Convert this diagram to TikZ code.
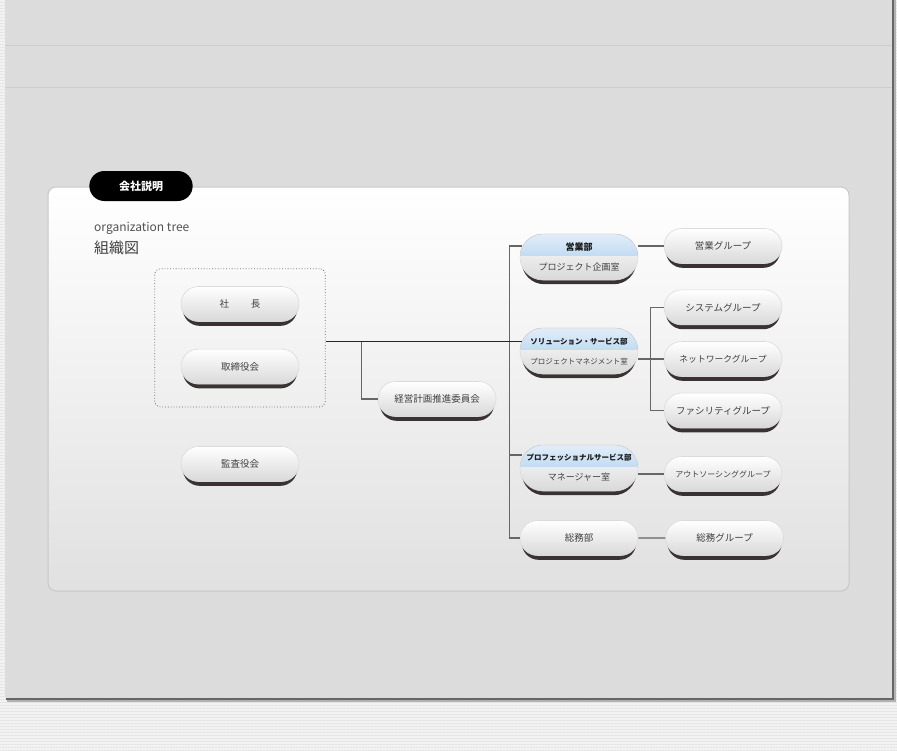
\documentclass[tikz,border=0pt]{standalone}
\usepackage{fontspec}
\setmainfont{Noto Sans CJK JP}
\usepackage{xcolor}
\usepackage{tikz}
\usetikzlibrary{calc, positioning, fit, shapes.misc, shadows, patterns.meta}

\definecolor{panelgray}{HTML}{DCDCDC}
\definecolor{textgray}{HTML}{404040}
\definecolor{linkgray}{HTML}{666666}
\definecolor{shadowbrown}{HTML}{3A3232}
\definecolor{deptblue}{HTML}{9EC6EA}
\definecolor{cardline}{HTML}{C8C8C8}

\begin{document}
\begin{tikzpicture}[x=1pt, y=-1pt]
            % Block style
            \tikzstyle{pill} = [rounded rectangle, draw=black!14, line width=0.6pt, minimum width=118pt, minimum height=35pt, inner sep=0pt, top color=white, bottom color=black!15, text=textgray, font=\fontsize{9.5}{11}\selectfont, general shadow={shadow yshift=-5pt, shadow scale=0.97, fill=shadowbrown, draw=none}]
            \tikzstyle{dept} = [pill, minimum height=46pt, align=center, font=\fontsize{9}{20}\selectfont, path picture={\fill[top color=deptblue!30, bottom color=deptblue] (path picture bounding box.north west) rectangle ([yshift=2pt]path picture bounding box.east);}]
            \tikzstyle{board} = [draw=black!60, dotted, line width=0.8pt, rounded corners=6pt, inner xsep=26pt, inner ysep=20pt]
            \tikzstyle{link} = [draw=linkgray, line width=1.4pt]
            \tikzstyle{trunkline} = [draw=black!85, line width=1pt]

            \useasboundingbox (0,0) rectangle (897,750);

            % Page and panel
            \fill[black!5] (0,0) rectangle (897,750);
            \fill[pattern={Lines[angle=0, distance=3pt, line width=1pt]}, pattern color=black!10] (0,0) rectangle (897,750);
            \fill[black!30] (7,0) rectangle (896,702);
            \fill[black!60] (6,0) rectangle (894,700);
            \fill[panelgray] (5,0) rectangle (892,698);
            \draw[black!20, line width=1pt] (5,45) -- (892,45);
            \draw[black!20, line width=1pt] (5,87) -- (892,87);

            % Card
            \draw[cardline, line width=1pt, rounded corners=8pt, top color=white, middle color=white, bottom color=black!12] (48,187) rectangle (849,591);
            \node[rounded rectangle, fill=black, text=white, minimum width=110pt, minimum height=30pt, font=\fontsize{11}{13}\selectfont\bfseries] (tab) at (141,186) {会社説明};
            \node[anchor=west, inner sep=0pt, text=black!68, font=\fontsize{12}{14}\selectfont] (subtitle) at (94,228) {organization tree};
            \node[anchor=west, inner sep=0pt, text=black!75, font=\fontsize{15}{17}\selectfont] (title) at (94,248) {組織図};

            % Board
            \node[pill] (president) at (240,304) {社\hspace{2.3em}長};
            \node[pill, below=27pt of president] (directors) {取締役会};
            \node[board, fit=(president) (directors), yshift=-2.5pt] (board) {};
            \node[pill] (auditor) at (240,464) {監査役会};
            \node[pill] (committee) at (437,399) {経営計画推進委員会};

            % Departments
            \node[dept] (sales) at (579,257) {\textcolor{black!90}{\bfseries 営業部}\\プロジェクト企画室};
            \node[dept] (solution) at (579,351) {\textcolor{black!90}{\fontsize{7.5}{9}\selectfont\bfseries ソリューション・サービス部}\\{\fontsize{7.5}{9}\selectfont プロジェクトマネジメント室}};
            \node[dept] (professional) at (579,468) {\textcolor{black!90}{\fontsize{7.5}{9}\selectfont\bfseries プロフェッショナルサービス部}\\マネージャー室};
            \node[pill] (general) at (579,538) {総務部};

            % Groups
            \node[pill] (salesgrp) at (723,246) {営業グループ};
            \node[pill] (network) at (723,359) {\fontsize{8.8}{10}\selectfont ネットワークグループ};
            \node[pill, above=16pt of network] (system) {システムグループ};
            \node[pill, below=16pt of network] (facility) {ファシリティグループ};
            \node[pill] (outsourcing) at (723,474) {\fontsize{8}{10}\selectfont アウトソーシンググループ};
            \node[pill, right=27pt of general] (generalgrp) {総務グループ};

            % Connections
            \coordinate (trunk) at ([xshift=2pt,yshift=10pt]solution.west);
            \coordinate (split) at ($(board.east |- trunk)+(36,0)$);
            \draw[link] (committee.west) -| (split);
            \draw[link] ([xshift=2pt,yshift=11pt]sales.west) -- ++(-12,0) |- (general.west);
            \draw[link] ([xshift=2pt,yshift=13pt]professional.west) -- ++(-12,0);
            \draw[trunkline] (board.east |- trunk) -- (trunk);

            \draw[link] (sales.east |- salesgrp) -- (salesgrp.west);
            \draw[link] (solution.east |- network) -- (network.west);
            \draw[link] (system.west) -- ++(-13,0) |- (facility.west);
            \draw[link] (professional.east |- outsourcing) -- (outsourcing.west);
            \draw[link] (general) -- (generalgrp);
        \end{tikzpicture}
\end{document}
